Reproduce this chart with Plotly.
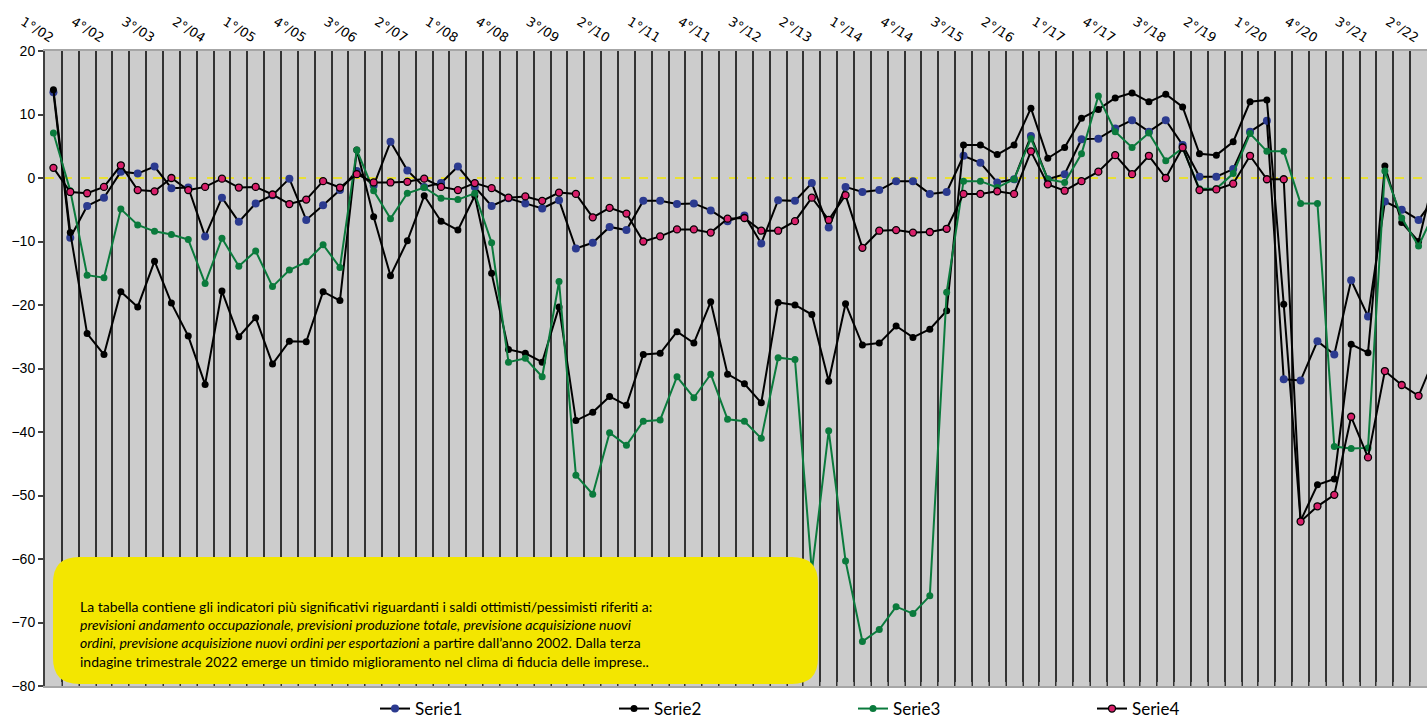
import plotly.graph_objects as go

# ---------------- data ----------------
years = [f"{y:02d}" for y in range(2, 23)]
categories = [f"{q}°/{y}" for y in years for q in (1, 2, 3, 4)][:83]  # 1°/02 ... 3°/22

serie1 = [13.5, -9.4, -4.4, -3.1, 1.0, 0.7, 1.8, -1.6, -1.5, -9.2,
          -3.1, -6.9, -4.0, -2.7, -0.1, -6.6, -4.3, -1.9, 1.1, -1.2,
          5.7, 1.2, -1.4, -0.8, 1.8, -1.4, -4.4, -3.2, -4.0, -4.8,
          -3.5, -11.1, -10.2, -7.7, -8.2, -3.6, -3.6, -4.1, -4.0, -5.1,
          -6.8, -5.9, -10.3, -3.5, -3.6, -0.8, -7.8, -1.4, -2.2, -1.9,
          -0.5, -0.5, -2.5, -2.2, 3.5, 2.4, -0.7, -0.2, 6.6, -0.2,
          0.6, 6.1, 6.2, 7.8, 9.1, 7.3, 9.1, 5.2, 0.2, 0.2,
          1.4, 7.3, 9.0, -31.7, -31.9, -25.7, -27.8, -16.1, -21.8, -3.7,
          -5.0, -6.6, -3.0]
serie2 = [13.9, -8.6, -24.5, -27.8, -17.9, -20.3, -13.1, -19.7, -24.9, -32.5,
          -17.8, -25.0, -22.0, -29.3, -25.7, -25.8, -17.9, -19.3, 4.4, -6.1,
          -15.4, -9.9, -2.8, -6.8, -8.2, -2.8, -15.0, -27.0, -27.6, -29.0,
          -20.3, -38.2, -36.9, -34.4, -35.8, -27.8, -27.6, -24.2, -26.0, -19.5,
          -30.9, -32.4, -35.4, -19.6, -20.0, -21.5, -32.0, -19.8, -26.3, -26.0,
          -23.3, -25.1, -23.8, -20.9, 5.2, 5.2, 3.7, 5.2, 11.0, 3.1,
          4.8, 9.4, 10.8, 12.6, 13.4, 12.0, 13.2, 11.2, 3.8, 3.6,
          5.7, 12.0, 12.3, -19.9, -54.0, -48.3, -47.4, -26.2, -27.5, 1.9,
          -7.0, -10.0, 1.0]
serie3 = [7.1, -2.0, -15.3, -15.7, -4.9, -7.4, -8.4, -8.9, -9.7, -16.6,
          -9.5, -13.9, -11.5, -17.1, -14.5, -13.2, -10.5, -14.1, 4.4, -2.0,
          -6.4, -2.4, -1.5, -3.2, -3.4, -2.4, -10.2, -29.0, -28.4, -31.3,
          -16.3, -46.8, -49.8, -40.1, -42.1, -38.3, -38.1, -31.3, -34.6, -30.9,
          -38.0, -38.3, -41.0, -28.3, -28.6, -62.0, -39.8, -60.3, -73.0, -71.1,
          -67.5, -68.6, -65.8, -18.0, -0.5, -0.5, -1.5, -0.2, 6.2, -0.2,
          -0.7, 3.8, 12.9, 7.3, 4.8, 7.1, 2.7, 4.7, -1.7, -1.7,
          0.7, 7.0, 4.2, 4.2, -4.0, -4.0, -42.3, -42.6, -42.5, 1.1,
          -6.3, -10.7, -5.0]
serie4 = [1.6, -2.2, -2.4, -1.4, 2.0, -1.9, -2.1, 0.0, -1.9, -1.4,
          -0.1, -1.5, -1.4, -2.6, -4.1, -3.4, -0.5, -1.5, 0.6, -0.7,
          -0.7, -0.6, -0.1, -1.4, -1.9, -0.8, -1.6, -3.1, -2.9, -3.6,
          -2.3, -2.5, -6.2, -4.7, -5.6, -10.0, -9.2, -8.1, -8.1, -8.6,
          -6.4, -6.3, -8.3, -8.3, -6.8, -3.1, -6.6, -2.7, -11.0, -8.3,
          -8.2, -8.6, -8.5, -8.0, -2.5, -2.5, -2.1, -2.5, 4.2, -1.0,
          -2.0, -0.5, 1.0, 3.6, 0.6, 3.5, 0.0, 4.8, -1.9, -1.8,
          -0.9, 3.5, -0.2, -0.2, -54.1, -51.7, -49.9, -37.6, -44.0, -30.4,
          -32.6, -34.3, -28.0]

series_names = ["Serie1", "Serie2", "Serie3", "Serie4"]
y_ticks = [20, 10, 0, -10, -20, -30, -40, -50, -60, -70, -80]

note_lines = [
    "La tabella contiene gli indicatori più significativi riguardanti i saldi ottimisti/pessimisti riferiti a:",
    "<i>previsioni andamento occupazionale, previsioni produzione totale, previsione acquisizione nuovi</i>",
    "<i>ordini, previsione acquisizione nuovi ordini per esportazioni</i> a partire dall’anno 2002. Dalla terza",
    "indagine trimestrale 2022 emerge un timido miglioramento nel clima di fiducia delle imprese..",
]

# ---------------- figure ----------------
x = list(range(len(categories)))
label_idx = list(range(0, len(categories), 3))
boundaries = [i + 0.5 for i in x]

styles = [
    dict(line=dict(color="#000000", width=2),
         marker=dict(color="#2B3A8F", size=8, line=dict(width=0))),
    dict(line=dict(color="#000000", width=2),
         marker=dict(color="#000000", size=7, line=dict(width=0))),
    dict(line=dict(color="#0A7A3C", width=2),
         marker=dict(color="#0A7A3C", size=7, line=dict(width=0))),
    dict(line=dict(color="#000000", width=2),
         marker=dict(color="#D81F6A", size=7, line=dict(color="#000000", width=1.3))),
]

fig = go.Figure()
for name, vals, st in zip(series_names, [serie1, serie2, serie3, serie4], styles):
    fig.add_trace(go.Scatter(x=x, y=vals, name=name, mode="lines+markers",
                             line=st["line"], marker=st["marker"], cliponaxis=True))

# invisible trace on bottom axis so it renders
fig.add_trace(go.Scatter(x=[x[0]], y=[None], xaxis="x2", showlegend=False,
                         hoverinfo="skip"))

W, H = 1427, 721
ml, mr, mt, mb = 45, 0, 51, 35
pw, ph = W - ml - mr, H - mt - mb

def px_x(p):  # page pixel -> paper x
    return (p - ml) / pw

def px_y(p):  # page pixel -> paper y
    return (H - mb - p) / ph

# rounded yellow box
bx0, bx1, by0, by1, r = px_x(53), px_x(818), px_y(684), px_y(557), 26
rx, ry = r / pw, r / ph
path = (f"M {bx0+rx},{by0} L {bx1-rx},{by0} Q {bx1},{by0} {bx1},{by0+ry} "
        f"L {bx1},{by1-ry} Q {bx1},{by1} {bx1-rx},{by1} L {bx0+rx},{by1} "
        f"Q {bx0},{by1} {bx0},{by1-ry} L {bx0},{by0+ry} Q {bx0},{by0} {bx0+rx},{by0} Z")

fig.update_layout(
    width=W, height=H,
    margin=dict(l=ml, r=mr, t=mt, b=mb, autoexpand=False),
    paper_bgcolor="#FFFFFF",
    plot_bgcolor="#CCCCCC",
    font=dict(family="Liberation Sans, Arial", size=14, color="#000000"),
    showlegend=True,
    legend=dict(orientation="h", x=px_x(375), xanchor="left", y=px_y(709), yanchor="middle",
                entrywidth=194, entrywidthmode="pixels",
                font=dict(family="Lato", size=17, color="#000000"),
                bgcolor="rgba(0,0,0,0)", itemwidth=30),
    xaxis=dict(
        range=[-0.5, 81.5], side="top", automargin=False,
        tickmode="array", tickvals=label_idx,
        ticktext=[categories[i] for i in label_idx],
        tickangle=32, ticks="",
        tickfont=dict(family="DejaVu Sans", size=13, color="#000000"),
        showgrid=False, zeroline=False,
        showline=True, linecolor="#A6A6A6", linewidth=2, mirror=False,
        minor=dict(tickmode="array", tickvals=boundaries, showgrid=True,
                   gridcolor="#333333", gridwidth=1.5, ticks=""),
    ),
    xaxis2=dict(
        range=[-0.5, 81.5], overlaying="x", side="bottom", anchor="y", automargin=False,
        showline=True, linecolor="#A6A6A6", linewidth=2,
        tickmode="array", tickvals=boundaries, ticks="inside", ticklen=4,
        tickcolor="#808080", showticklabels=False, showgrid=False, zeroline=False,
    ),
    yaxis=dict(
        range=[-80, 20], tickmode="array", tickvals=y_ticks, automargin=False,
        ticks="outside", ticklen=5, tickcolor="#404040", tickwidth=1.5,
        showline=True, linecolor="#404040", linewidth=2,
        showgrid=False, zeroline=False,
        tickfont=dict(family="Liberation Sans, Arial", size=14, color="#000000"),
    ),
    shapes=[
        dict(type="line", xref="paper", yref="y", x0=0, x1=1, y0=0, y1=0,
             line=dict(color="#F2E600", width=1.5, dash="dash"), layer="below"),
        dict(type="path", xref="paper", yref="paper", path=path,
             fillcolor="#F3E600", line=dict(width=0), layer="above"),
    ],
    annotations=[
        dict(xref="paper", yref="paper", x=px_x(78), y=px_y(634),
             xanchor="left", yanchor="middle", align="left", showarrow=False,
             text="<br>".join(note_lines),
             font=dict(family="Lato", size=14, color="#000000")),
    ],
)

fig.write_html("out.html",
               config={"displayModeBar": False},
               post_script="document.body.style.margin='0';document.body.style.overflow='hidden';")
